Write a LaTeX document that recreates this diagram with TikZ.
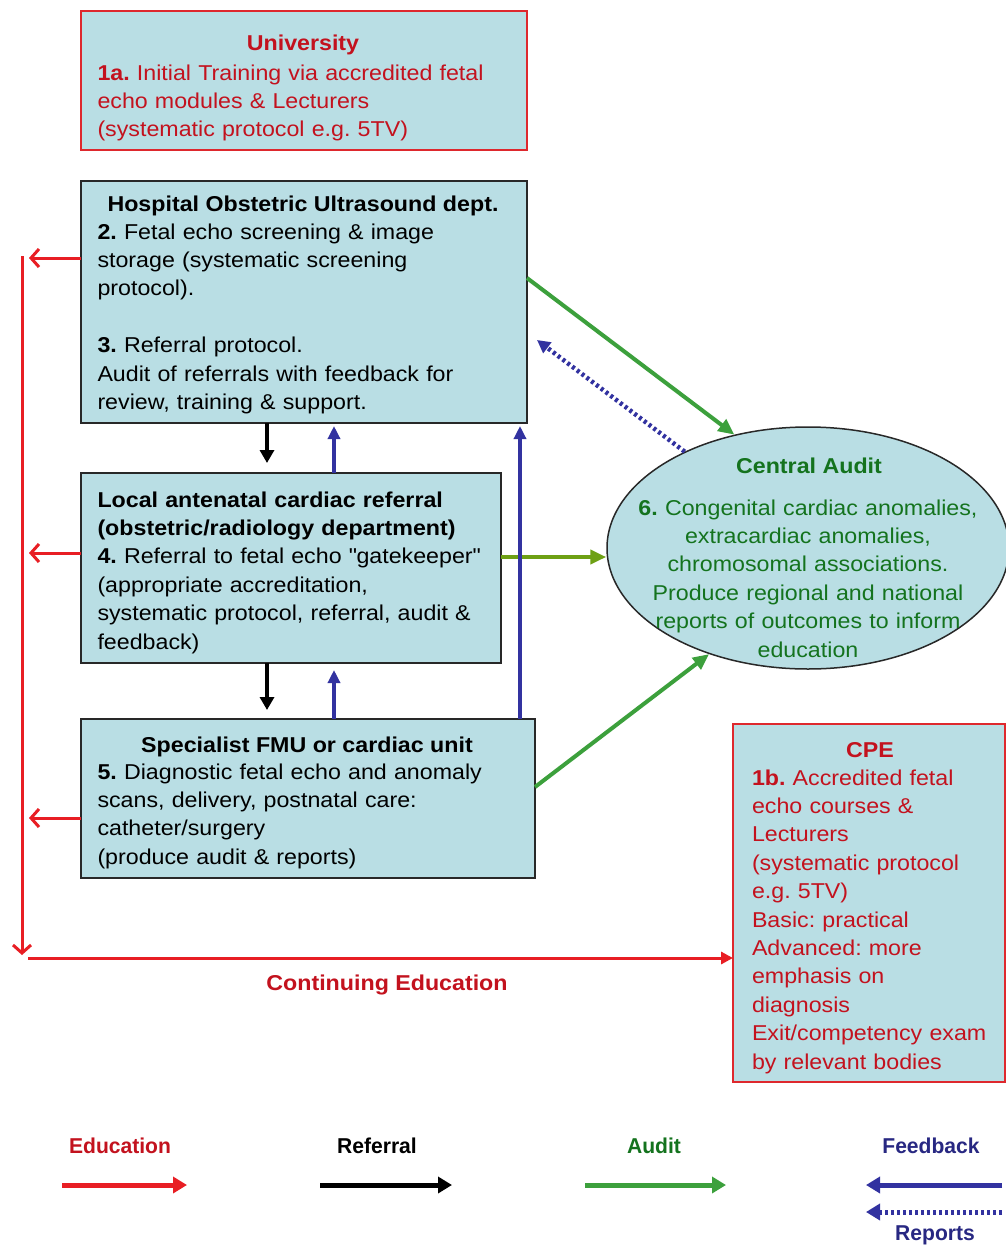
\documentclass[tikz,border=0pt]{standalone}
\usepackage{fontspec}
\setmainfont{Liberation Sans}[FakeStretch=1.08]
\newfontfamily\legfont{Liberation Sans}[FakeStretch=0.98]
\usetikzlibrary{arrows.meta,shapes.geometric,calc}
\frenchspacing
\definecolor{boxfill}{RGB}{185,222,228}
\definecolor{boxline}{RGB}{40,40,40}
\definecolor{redline}{RGB}{222,40,45}
\definecolor{redtext}{RGB}{195,18,30}
\definecolor{eduarrow}{RGB}{232,30,36}
\definecolor{auditgreen}{RGB}{60,160,60}
\definecolor{olive}{RGB}{110,160,20}
\definecolor{greentext}{RGB}{20,115,30}
\definecolor{fbblue}{RGB}{50,50,160}
\definecolor{navytext}{RGB}{40,40,130}
\tikzset{
  box/.style={draw=boxline, line width=1.8pt, fill=boxfill, inner sep=0pt, outer sep=0pt, anchor=north west},
  redbox/.style={box, draw=redline, line width=1.5pt},
  txt/.style={inner sep=0pt, outer sep=0pt, anchor=base west, align=left, text width=#1, font=\fontsize{21.5}{28.4}\selectfont},
  txtc/.style={inner sep=0pt, outer sep=0pt, anchor=base, align=center, text width=#1, font=\fontsize{21.5}{28.4}\selectfont},
  ttl/.style={inner sep=0pt, outer sep=0pt, anchor=base, font=\fontsize{21.5}{28.4}\selectfont\bfseries},
  leg/.style={inner sep=0pt, outer sep=0pt, anchor=base, font=\fontsize{21.5}{26}\legfont\bfseries},
  eduopen/.style={draw=eduarrow, line width=3pt, -{Straight Barb[length=8pt,width=18pt]}},
  edufill/.style={draw=eduarrow, line width=3pt, -{Triangle[length=12pt,width=12pt]}},
  refarrow/.style={draw=black, line width=3.6pt, -{Triangle[length=13pt,width=14pt]}},
  fbarrow/.style={draw=fbblue, line width=3.6pt, -{Triangle[length=13pt,width=12pt]}},
  audarrow/.style={draw=auditgreen, line width=4pt, -{Triangle[length=16pt,width=14pt]}},
  olivearrow/.style={draw=olive, line width=4pt, -{Triangle[length=16pt,width=14pt]}},
  reparrow/.style={draw=fbblue, line width=4.5pt, dash pattern=on 3pt off 3pt, -{Triangle[length=13pt,width=13pt]}},
  legarrow/.style={line width=5pt, -{Triangle[length=14pt,width=16pt]}},
}
\begin{document}
\begin{tikzpicture}[x=1pt,y=-1pt]
\useasboundingbox (0,0) rectangle (1006,1245);
\fill[white] (0,0) rectangle (1006,1245);

% boxes
\node[redbox, minimum width=446pt, minimum height=139pt] (uni) at (81,11) {};
\node[box, minimum width=446pt, minimum height=242pt] (hosp) at (81,181) {};
\node[box, minimum width=420pt, minimum height=190pt] (local) at (81,473) {};
\node[box, minimum width=454pt, minimum height=159pt] (spec) at (81,719) {};
\node[redbox, minimum width=272pt, minimum height=358pt] (cpe) at (733,724) {};
\node[ellipse, draw=boxline, line width=1.5pt, fill=boxfill, minimum width=402pt, minimum height=242pt, inner sep=0pt] (audit) at (808,548) {};

% texts
\node[ttl, text=redtext] (unit) at (303,50) {University};
\node[txt=420pt, text=redtext] (unib) at (97.5,80) {\textbf{1a.} Initial Training via accredited fetal\\echo modules \& Lecturers\\(systematic protocol e.g. 5TV)};

\node[ttl] (hospt) at (303,211.7) {Hospital Obstetric Ultrasound dept.};
\node[txt=420pt] (hospb) at (97.5,239) {\textbf{2.} Fetal echo screening \& image\\storage (systematic screening\\protocol).\\[28.4pt]\textbf{3.} Referral protocol.\\Audit of referrals with feedback for\\review, training \& support.};

\node[txt=400pt] (localb) at (97.5,507) {\textbf{Local antenatal cardiac referral}\\\textbf{(obstetric/radiology department)}\\\textbf{4.} Referral to fetal echo \textquotedbl gatekeeper\textquotedbl\\(appropriate accreditation,\\systematic protocol, referral, audit \&\\feedback)};

\node[ttl] (spect) at (307,752) {Specialist FMU or cardiac unit};
\node[txt=430pt] (specb) at (97.5,779) {\textbf{5.} Diagnostic fetal echo and anomaly\\scans, delivery, postnatal care:\\catheter/surgery\\(produce audit \& reports)};

\node[ttl, text=redtext] (cpet) at (870,757) {CPE};
\node[txt=250pt, text=redtext] (cpeb) at (752,785) {\textbf{1b.} Accredited fetal\\echo courses \&\\Lecturers\\(systematic protocol\\e.g. 5TV)\\Basic: practical\\Advanced: more\\emphasis on\\diagnosis\\Exit/competency exam\\by relevant bodies};

\node[ttl, text=greentext] (auditt) at (809,473) {Central Audit};
\node[txtc=390pt, text=greentext] (auditb) at (808,515) {\textbf{6.} Congenital cardiac anomalies,\\extracardiac anomalies,\\chromosomal associations.\\Produce regional and national\\reports of outcomes to inform\\education};

\node[ttl, text=redtext] (conted) at (387,990) {Continuing Education};

% education arrows
\coordinate (rl) at (29,258);
\coordinate (rtop) at (22,256);
\coordinate (rbot) at (22,955);
\coordinate (rh) at (28,958);
\draw[eduopen] ([yshift=44pt]hosp.west) -- (rl);
\coordinate (l4) at ([yshift=15pt]local.west);
\draw[eduopen] (l4) -- (l4 -| rl);
\coordinate (l5) at ([yshift=-19.5pt]spec.west);
\draw[eduopen] (l5) -- (l5 -| rl);
\draw[eduopen] (rtop) -- (rbot);
\draw[edufill] (rh) -- (rh -| cpe.west);

% referral arrows
\coordinate (kx) at (267,0);
\draw[refarrow, shorten >=10pt] (hosp.south -| kx) -- (local.north -| kx);
\draw[refarrow, shorten >=9pt] (local.south -| kx) -- (spec.north -| kx);

% audit arrows
\draw[audarrow] ([yshift=24pt]hosp.east) -- (audit.123);
\coordinate (oa) at ([yshift=11pt]local.east);
\draw[olivearrow] (oa) -- (oa -| audit.west);
\draw[audarrow] ([yshift=11.5pt]spec.east) -- (audit.227);

% feedback arrows
\coordinate (bx) at (334,0);
\coordinate (bx2) at (520,0);
\draw[fbarrow, shorten >=3pt] (local.north -| bx) -- (hosp.south -| bx);
\draw[fbarrow, shorten >=7pt] (spec.north -| bx) -- (local.south -| bx);
\draw[fbarrow, shorten >=3pt] (spec.north -| bx2) -- (hosp.south -| bx2);
\draw[reparrow] (audit.142) -- ([shift={(10pt,-38pt)}]hosp.east);

% legend
\node[leg, text=redtext] (le) at (120,1153) {Education};
\node[leg, text=black] (lr) at (377,1153) {Referral};
\node[leg, text=greentext] (la) at (654,1153) {Audit};
\node[leg, text=navytext] (lf) at (931,1153) {Feedback};
\node[leg, text=navytext] (lrep) at (935,1240) {Reports};
\coordinate (e1) at (62,1185); \coordinate (e2) at (187,1185);
\coordinate (r1) at (320,1185); \coordinate (r2) at (452,1185);
\coordinate (a1) at (585,1185); \coordinate (a2) at (726,1185);
\coordinate (f1) at (1002,1185); \coordinate (f2) at (866,1185);
\coordinate (d1) at (1002,1212); \coordinate (d2) at (866,1212);
\draw[legarrow, draw=eduarrow] (e1) -- (e2);
\draw[legarrow, draw=black] (r1) -- (r2);
\draw[legarrow, draw=auditgreen] (a1) -- (a2);
\draw[legarrow, draw=fbblue] (f1) -- (f2);
\draw[legarrow, draw=fbblue, dash pattern=on 3pt off 3pt] (d1) -- (d2);
\end{tikzpicture}
\end{document}
